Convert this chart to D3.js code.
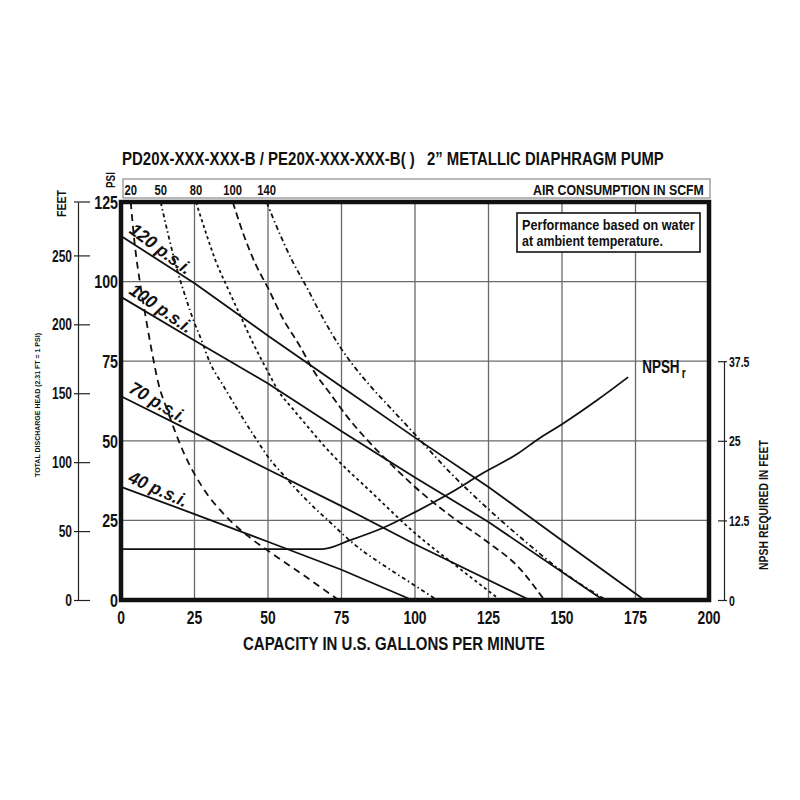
<!DOCTYPE html>
<html>
<head>
<meta charset="utf-8">
<script src="https://cdn.jsdelivr.net/npm/d3@7"></script>
<style>
  html, body { margin: 0; padding: 0; background: #fff; }
  text { font-family: "Liberation Sans", Arial, Helvetica, sans-serif; font-weight: bold; fill: #111; }
</style>
</head>
<body>
<div id="chart"></div>
<script>
// axis ticks
const capacityTicks = [0, 25, 50, 75, 100, 125, 150, 175, 200];
const psiTicks = [0, 25, 50, 75, 100, 125];
const feetTicks = [0, 50, 100, 150, 200, 250];
const npshTicks = [0, 12.5, 25, 37.5];

// discharge pressure lines [gpm, psi]
const pressureLabels = ["120 p.s.i.", "100 p.s.i.", "70 p.s.i.", "40 p.s.i."];
const psi120 = [[0, 114.3], [25, 99.5], [50, 83], [75, 67], [100, 51], [125, 35.5], [150, 18.7], [178, 0]];
const psi100 = [[0, 95.2], [25, 81.5], [50, 68], [75, 53], [100, 38.5], [125, 24.5], [164, 0]];
const psi70 = [[0, 64], [25, 52.5], [50, 41], [75, 29.5], [100, 17.5], [139, 0]];
const psi40 = [[0, 35.5], [25, 27], [50, 18.3], [75, 9.5], [99, 0]];

// air consumption curves [gpm, psi]
const airLabels = ["20", "50", "80", "100", "140"];
const scfm20 = [[3.3, 125], [4.7, 111.5], [6.4, 100], [8.1, 90.5], [10.3, 79], [12.6, 68.5], [16, 59], [21.7, 45.5],
  [27.3, 36], [36, 26], [44, 19.5], [50, 15.5], [61, 8.5], [74, 0]];
const scfm50 = [[13.5, 125], [16, 115], [19, 104], [22, 95], [25, 87], [27, 82.5], [30.3, 74.5], [35, 67], [40.5, 58.5],
  [46, 50.5], [50, 45], [56, 38.5], [63, 31.5], [71, 24.5], [80, 17], [90, 10.5], [100, 4.5], [107.5, 0]];
const scfm80 = [[25.5, 125], [29, 115], [32, 107], [36, 98.5], [40.5, 89.5], [45, 80.5], [49.5, 72.5], [54, 65], [58, 60.5],
  [63, 55], [69, 48.5], [72, 45.5], [85, 34], [100, 21], [115, 10], [129, 0]];
const scfm100 = [[38, 125], [42, 114], [45.5, 106], [50, 98], [55, 88.5], [61, 79.5], [65.5, 72], [71, 65], [77, 57.5],
  [83.5, 50.5], [92, 42.5], [100, 35.5], [112, 26.5], [125, 18], [135, 10.5], [144, 0]];
const scfm140 = [[49.5, 125], [54, 115], [58, 107], [63, 98.5], [69, 88], [74.5, 79.5], [80, 72.5], [85, 67], [93, 59],
  [100, 52], [112, 40], [125, 28.5], [138, 18], [150, 9], [165, 0]];

// NPSH required [gpm, feet]
const npshCurve = [[0, 8], [68.5, 8], [78, 9.4], [89, 11.3], [100, 13.8], [112, 16.8], [123, 19.9], [135, 23],
  [142, 25.3], [150, 27.6], [162, 31.4], [172.5, 35]];

const W = 800, H = 800;
const plotL = 121, plotR = 709, plotT = 202, plotB = 600;
const NARROW = 0.75; // squeeze to look like a condensed face

const svg = d3.select("#chart").append("svg")
  .attr("width", W).attr("height", H)
  .style("background", "#fff");

const x = d3.scaleLinear().domain([0, 200]).range([plotL, plotR]);
const y = d3.scaleLinear().domain([0, 125]).range([plotB, plotT]);
const yFeet = d3.scaleLinear().domain([0, 125 * 2.31]).range([plotB, plotT]);
const yNpsh = d3.scaleLinear().domain([0, 37.5]).range([plotB, y(75)]);

function label(g, px, py, str, size, anchor = "start") {
  return g.append("text")
    .attr("transform", `translate(${px},${py}) scale(${NARROW},1)`)
    .attr("font-size", size)
    .attr("text-anchor", anchor)
    .text(str);
}

// text squeezed to a measured width from the reference
function fitted(g, px, py, str, size, width, rotate = 0) {
  const t = g.append("text").attr("font-size", size).text(str);
  const w = t.node().getComputedTextLength() || width;
  t.attr("transform", `translate(${px},${py}) rotate(${rotate}) scale(${width / w},1)`);
  return t;
}

// title
fitted(svg, 122, 165, "PD20X-XXX-XXX-B / PE20X-XXX-XXX-B( )", 18.5, 293);
fitted(svg, 427, 165, "2\u201D METALLIC DIAPHRAGM PUMP", 18.5, 237);

// grid
const grid = svg.append("g");
grid.selectAll(".vgrid").data(capacityTicks.slice(1, -1)).enter().append("line")
  .attr("x1", (d) => x(d)).attr("x2", (d) => x(d))
  .attr("y1", plotT).attr("y2", plotB)
  .attr("stroke", "#6a6a6a").attr("stroke-width", 1.3);
grid.selectAll(".hgrid").data(psiTicks.slice(1, -1)).enter().append("line")
  .attr("x1", plotL).attr("x2", plotR)
  .attr("y1", (d) => y(d)).attr("y2", (d) => y(d))
  .attr("stroke", "#6a6a6a").attr("stroke-width", 1.3);

// air consumption header box
svg.append("rect")
  .attr("x", plotL + 2).attr("y", 179).attr("width", plotR - plotL - 1).attr("height", 19)
  .attr("fill", "none").attr("stroke", "#8a8a8a").attr("stroke-width", 1.2);
fitted(svg, 533, 195, "AIR CONSUMPTION IN SCFM", 14, 171);

const line = d3.line().x((d) => x(d[0])).y((d) => y(d[1])).curve(d3.curveMonotoneX);

// air curves
const airCurves = [scfm20, scfm50, scfm80, scfm100, scfm140];
const airDash = ["7,5", "4,3,1.5,3", "3,3", "7,4", "5,3,1.5,3"];
svg.append("g").selectAll("path").data(airCurves).enter().append("path")
  .attr("d", line)
  .attr("fill", "none").attr("stroke", "#111").attr("stroke-width", 1.8)
  .attr("stroke-dasharray", (d, i) => airDash[i]);

const airG = svg.append("g");
airCurves.forEach((pts, i) => label(airG, x(pts[0][0]), 195, airLabels[i], 15, "middle"));

// pressure lines
const pressureLines = [psi120, psi100, psi70, psi40];
svg.append("g").selectAll("path").data(pressureLines).enter().append("path")
  .attr("d", d3.line().x((d) => x(d[0])).y((d) => y(d[1])))
  .attr("fill", "none").attr("stroke", "#111").attr("stroke-width", 1.8);

pressureLines.forEach((pts, i) => {
  const x0 = x(pts[0][0]), y0 = y(pts[0][1]);
  const x1 = x(pts[1][0]), y1 = y(pts[1][1]);
  const a = Math.atan2(y1 - y0, x1 - x0);
  const ax = x0 + 4 * Math.cos(a) + 7 * Math.sin(a);
  const ay = y0 + 4 * Math.sin(a) - 7 * Math.cos(a);
  svg.append("text")
    .attr("transform", `translate(${ax},${ay}) rotate(${(a * 180) / Math.PI + 4}) scale(0.95,1)`)
    .attr("font-size", 18).attr("font-style", "italic")
    .text(pressureLabels[i]);
});

// NPSH curve
svg.append("path")
  .attr("d", d3.line().x((d) => x(d[0])).y((d) => yNpsh(d[1])).curve(d3.curveMonotoneX)(npshCurve))
  .attr("fill", "none").attr("stroke", "#111").attr("stroke-width", 1.8);
const npshEnd = npshCurve[npshCurve.length - 1];
const npshLabel = label(svg, x(npshEnd[0]) + 14, yNpsh(npshEnd[1]) - 4, "", 18);
npshLabel.append("tspan").text("NPSH");
npshLabel.append("tspan").attr("dx", 3).attr("dy", 5).attr("font-size", 14).text("r");

// note box
svg.append("rect").attr("x", 517).attr("y", 213).attr("width", 183).attr("height", 39)
  .attr("fill", "#fff").attr("stroke", "#111").attr("stroke-width", 1.6);
fitted(svg, 522, 230, "Performance based on water", 14, 173);
fitted(svg, 522, 246, "at ambient temperature.", 14, 141);

// plot frame
svg.append("rect")
  .attr("x", plotL).attr("y", plotT).attr("width", plotR - plotL).attr("height", plotB - plotT)
  .attr("fill", "none").attr("stroke", "#111").attr("stroke-width", 4.5);

// bottom axis labels
const bottomG = svg.append("g");
capacityTicks.forEach((d) => label(bottomG, x(d), 624, d, 18.5, "middle"));
fitted(svg, 243, 650, "CAPACITY IN U.S. GALLONS PER MINUTE", 19, 302);

// psi labels
const psiG = svg.append("g");
psiTicks.forEach((d) => label(psiG, 118, y(d) + 6.8, d, 19, "end"));
fitted(svg, 115, 188, "PSI", 13, 16, -90);

// feet axis
const feetAxis = svg.append("g").attr("transform", "translate(78,0)")
  .call(d3.axisLeft(yFeet).tickValues(feetTicks).tickSizeOuter(0));
feetAxis.select(".domain").attr("stroke", "#222").attr("stroke-width", 1.2);
feetAxis.selectAll(".tick line").attr("x1", -4).attr("x2", 12).attr("stroke", "#222").attr("stroke-width", 1.2);
feetAxis.selectAll(".tick text")
  .attr("x", null).attr("dy", null)
  .attr("transform", `translate(-6,5.6) scale(${NARROW},1)`)
  .attr("font-size", 16).attr("font-family", null).attr("fill", "#111");
feetAxis.append("line")
  .attr("x1", -4).attr("x2", 12).attr("y1", yFeet.range()[1]).attr("y2", yFeet.range()[1])
  .attr("stroke", "#222").attr("stroke-width", 1.2);
fitted(svg, 66, 217, "FEET", 13, 27, -90);
fitted(svg, 40, 477, "TOTAL DISCHARGE HEAD (2.31 FT = 1 PSI)", 7.5, 144, -90).attr("font-weight", "normal");

// NPSH axis
const npshAxis = svg.append("g").attr("transform", "translate(724,0)")
  .call(d3.axisRight(yNpsh).tickValues(npshTicks).tickSizeOuter(0).tickFormat((d) => d));
npshAxis.select(".domain").attr("stroke", "#222").attr("stroke-width", 1.2);
npshAxis.selectAll(".tick line").attr("x1", -6).attr("x2", 3).attr("stroke", "#222").attr("stroke-width", 1.2);
npshAxis.selectAll(".tick text")
  .attr("x", null).attr("dy", null)
  .attr("transform", `translate(5,5) scale(${NARROW},1)`)
  .attr("font-size", 14).attr("font-family", null).attr("fill", "#111");
fitted(svg, 768, 570, "NPSH REQUIRED IN FEET", 13, 130, -90);
</script>
</body>
</html>
